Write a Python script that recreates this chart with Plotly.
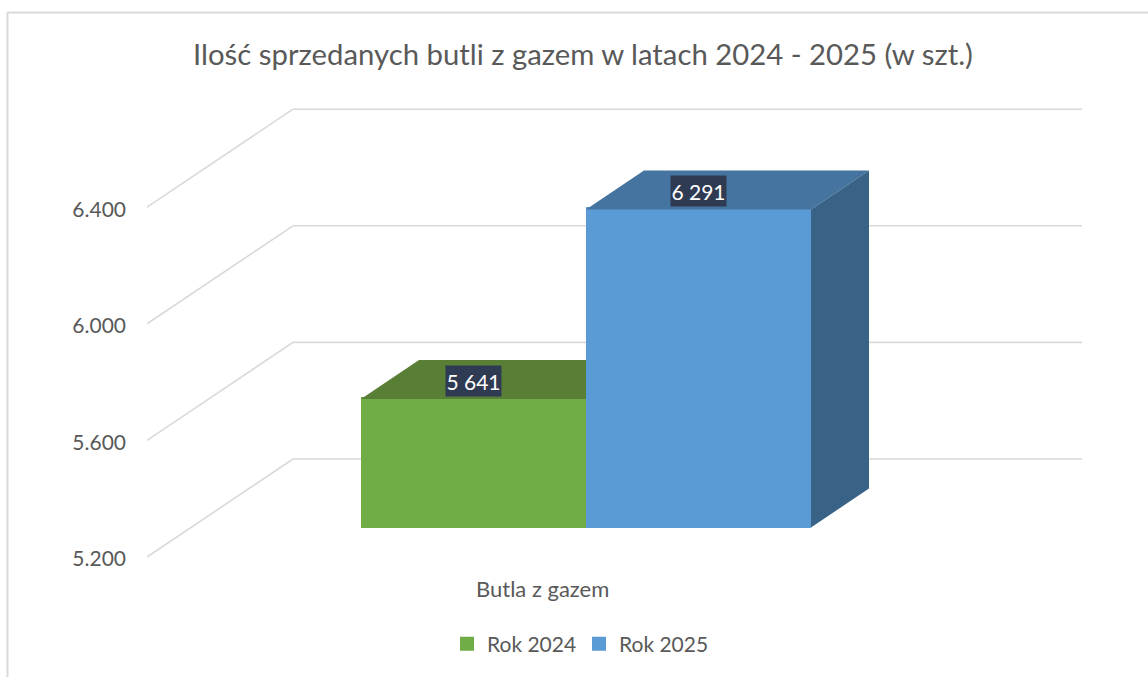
import plotly.graph_objects as go

# --- data ---
title_text = "Ilość sprzedanych butli z gazem w latach 2024 - 2025 (w szt.)"
category = "Butla z gazem"
series_names = ["Rok 2024", "Rok 2025"]
series_values = [5641, 6291]
value_labels = ["5 641", "6 291"]
tick_values = [5200, 5600, 6000, 6400]
tick_labels = ["5.200", "5.600", "6.000", "6.400"]

# --- styling / projection ---
FONT = "Lato"
W, H = 1148, 677
TXT = "#595959"
GRID = "#D9D9D9"
front_colors = ["#70AD47", "#5B9BD5"]
top_colors = ["#587F35", "#44749F"]
side_color = "#386286"
label_bg = "#2F3B52"

PX_PER_UNIT = 116.6 / 400
unit = 1 / PX_PER_UNIT          # value units per screen pixel
FLOOR = tick_values[0]
Y_FLOOR_PX = 557
X_LEFT = 147
y_range = [FLOOR - (H - Y_FLOOR_PX) * unit, FLOOR + Y_FLOOR_PX * unit]

WALL_DX, WALL_DV = 146, 98 * unit   # depth of the 3-D box
GRID_END = 1082
BAR_DX, BAR_DV = 58, 39 * unit      # depth of a bar
BAR_BASE = FLOOR + 29.5 * unit      # bars stand forward on the floor
BAR_W = 225
EDGE = 2                            # stroke on the front faces (also sizes the legend swatch)
bar_left = [361, 586]
bar_center = [l + BAR_W / 2 for l in bar_left]

fig = go.Figure()

# front faces (their stroke makes up the outer pixel; the top edge sits under the top face)
for i, name in enumerate(series_names):
    fig.add_trace(go.Bar(
        x=[bar_center[i]], y=[series_values[i] - FLOOR], base=[BAR_BASE + EDGE / 2 * unit],
        width=[BAR_W - EDGE], name=name,
        marker=dict(color=front_colors[i], line=dict(color=front_colors[i], width=EDGE)),
        hoverinfo="skip",
    ))

# top faces (the first bar's top is hidden behind the second bar's front)
for i, v in enumerate(series_values):
    l = bar_left[i]
    r = l + BAR_W
    t = v - FLOOR + BAR_BASE
    if i == 0:
        xs = [l, l + BAR_DX, r, r]
    else:
        xs = [l, l + BAR_DX, r + BAR_DX, r]
    fig.add_trace(go.Scatter(
        x=xs + [l], y=[t, t + BAR_DV, t + BAR_DV, t, t], mode="lines", fill="toself",
        fillcolor=top_colors[i], line=dict(width=0), showlegend=False, hoverinfo="skip",
    ))

# side face of the taller bar
r = bar_left[1] + BAR_W
t = series_values[1] - FLOOR + BAR_BASE
fig.add_trace(go.Scatter(
    x=[r, r + BAR_DX, r + BAR_DX, r, r],
    y=[t, t + BAR_DV, BAR_BASE + BAR_DV, BAR_BASE, t],
    mode="lines", fill="toself", fillcolor=side_color, line=dict(width=0),
    showlegend=False, hoverinfo="skip",
))

# gridlines running along the side wall and back wall
shapes = []
for v in tick_values:
    for x0, y0, x1, y1 in [
        (X_LEFT, v, X_LEFT + WALL_DX, v + WALL_DV),
        (X_LEFT + WALL_DX, v + WALL_DV, GRID_END, v + WALL_DV),
    ]:
        shapes.append(dict(type="line", xref="x", yref="y", x0=x0, y0=y0, x1=x1, y1=y1,
                           layer="below", line=dict(color=GRID, width=1.6)))
# chart frame (top and left edges only are in view)
shapes.append(dict(type="line", xref="paper", yref="paper", x0=7 / W, x1=1,
                   y0=1 - 12.5 / H, y1=1 - 12.5 / H, layer="below",
                   line=dict(color=GRID, width=2)))
shapes.append(dict(type="line", xref="paper", yref="paper", x0=7.5 / W, x1=7.5 / W,
                   y0=0, y1=1 - 12.5 / H, layer="below",
                   line=dict(color=GRID, width=2)))

annotations = []
for i, v in enumerate(series_values):
    annotations.append(dict(
        x=bar_center[i], y=v - FLOOR + BAR_BASE + 0.47 * BAR_DV, xref="x", yref="y",
        text=value_labels[i], showarrow=False, bgcolor=label_bg, width=53, height=28,
        font=dict(family=FONT, size=21, color="white"),
    ))
annotations.append(dict(
    x=542.5, y=FLOOR - 31 * unit, xref="x", yref="y", text=category, showarrow=False,
    font=dict(family=FONT, size=22, color=TXT),
))

fig.update_layout(
    width=W, height=H, autosize=False,
    margin=dict(l=0, r=0, t=0, b=0),
    paper_bgcolor="white", plot_bgcolor="rgba(0,0,0,0)",
    barmode="overlay", bargap=0,
    title=dict(text=title_text, x=583 / W, xanchor="center", xref="paper",
               y=1 - 55 / H, yanchor="middle", yref="container",
               font=dict(family=FONT, size=29.3, color=TXT)),
    xaxis=dict(domain=[X_LEFT / W, 1], range=[X_LEFT, W], visible=False, fixedrange=True),
    yaxis=dict(range=y_range, tickmode="array", tickvals=tick_values, ticktext=tick_labels,
               showgrid=False, zeroline=False, showline=False, ticks="", ticklabelstandoff=20,
               ticklabelshift=2,
               tickfont=dict(family=FONT, size=21, color=TXT), fixedrange=True),
    legend=dict(orientation="h", x=447 / W, xanchor="left", y=1 - 644 / H, yanchor="middle",
                font=dict(family=FONT, size=21, color=TXT), bgcolor="rgba(0,0,0,0)",
                entrywidth=87, entrywidthmode="pixels",
                traceorder="normal", itemclick=False, itemdoubleclick=False),
    shapes=shapes,
    annotations=annotations,
)

fig.write_html("out.html", config=dict(displayModeBar=False),
               post_script="document.body.style.margin='0';document.documentElement.style.overflow='hidden';")
